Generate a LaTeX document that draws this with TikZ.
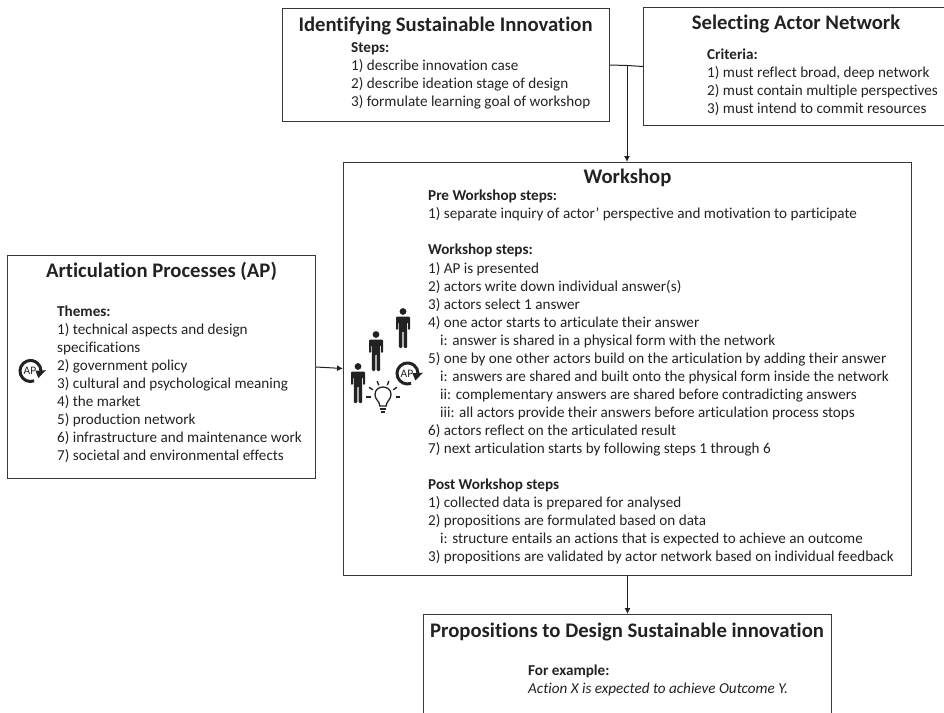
\documentclass[tikz,border=0pt]{standalone}
\usepackage{fontspec}
\setmainfont[Ligatures=NoCommon]{Carlito}
\usetikzlibrary{arrows.meta}
\definecolor{ink}{HTML}{222222}
\tikzset{
  x=1pt,y=-1pt,
  box/.style={draw=ink!90,line width=1pt,rectangle,inner sep=0pt,anchor=north west},
  title/.style={text=ink,inner sep=0pt,anchor=base,font=\fontsize{20.7}{24}\selectfont\bfseries},
  body/.style={text=ink,inner sep=0pt,anchor=north west,align=left,font=\fontsize{15.15}{18.05}\selectfont},
  link/.style={draw=ink,line width=1pt},
  arrow/.style={link,-{Latex[length=6pt,width=6pt]}},
  person/.pic={
    \fill[ink] (0,-15.5) circle (3.4);
    \fill[ink,rounded corners=1.2pt] (-7,-10.5) -- (7,-10.5) -- (7,3) -- (5,3) -- (5,-5) -- (4.2,-5)
      -- (4.2,21) -- (0.7,21) -- (0.7,4) -- (-0.7,4) -- (-0.7,21) -- (-4.2,21) -- (-4.2,-5) -- (-5,-5) -- (-5,3) -- (-7,3) -- cycle;
  },
  cyclemark/.pic={
    \draw[ink,line width=3pt] (70:10.5) arc[start angle=70,end angle=360,radius=10.5];
    \fill[ink] (-3:5) -- (-3:15.5) -- (42:10.5) -- cycle;
    \node[inner sep=0pt,text=ink,font=\fontsize{11.5}{12}\selectfont] (-txt) at (-0.5,0) {AP};
  },
  bulb/.pic={
    \draw[ink,line width=1.3pt] (-3.2,9) .. controls (-3.2,4) and (-8,3) .. (-8,-2.5)
      .. controls (-8,-7.5) and (-4,-10) .. (0,-10) .. controls (4,-10) and (8,-7.5) .. (8,-2.5)
      .. controls (8,3) and (3.2,4) .. (3.2,9) -- cycle;
    \fill[ink] (-3.2,10.5) rectangle (3.2,12.5);
    \fill[ink] (-2.2,13.5) rectangle (2.2,15.5);
    \foreach \a in {0,35,70,110,145,180}{
      \draw[ink,line width=1.4pt] (-\a:12.5) -- (-\a:17);
    }
  },
}
\begin{document}
\begin{tikzpicture}
\useasboundingbox (0,0) rectangle (944,712);
\clip (0,0) rectangle (944,712);
% boxes
\node[box,minimum width=327pt,minimum height=113pt] (identify) at (282,8) {};
\node[box,minimum width=310pt,minimum height=118pt] (select) at (643,7) {};
\node[box,minimum width=568pt,minimum height=413pt] (workshop) at (343,162) {};
\node[box,minimum width=308pt,minimum height=223pt] (ap) at (7,255) {};
\node[box,minimum width=408pt,minimum height=120pt] (prop) at (423,614) {};
% titles
\node[title] (identifyT) at (445.5,31) {Identifying Sustainable Innovation};
\node[title] (selectT) at (796,29.5) {Selecting Actor Network};
\node[title] (workshopT) at (627.5,183) {Workshop};
\node[title] (apT) at (161.5,277) {Articulation Processes (AP)};
\node[title] (propT) at (627,637) {Propositions to Design Sustainable innovation};
% body
\node[body] (identifyB) at (351,42.5) {\textbf{Steps:}\\
1) describe innovation case\\
2) describe ideation stage of design\\
3) formulate learning goal of workshop};
\node[body] (selectB) at (707,49) {\textbf{Criteria:}\\
1) must reflect broad, deep network\\
2) must contain multiple perspectives\\
3) must intend to commit resources};
\node[body] (workshopB) at (428,190) {\textbf{Pre Workshop steps:}\\
1) separate inquiry of actor’ perspective and motivation to participate\\[18.05pt]
\textbf{Workshop steps:}\\
1) AP is presented\\
2) actors write down individual answer(s)\\
3) actors select 1 answer\\
4) one actor starts to articulate their answer\\
\hspace*{12pt}i: answer is shared in a physical form with the network\\
5) one by one other actors build on the articulation by adding their answer\\
\hspace*{12pt}i: answers are shared and built onto the physical form inside the network\\
\hspace*{12pt}ii: complementary answers are shared before contradicting answers\\
\hspace*{12pt}iii: all actors provide their answers before articulation process stops\\
6) actors reflect on the articulated result\\
7) next articulation starts by following steps 1 through 6\\[18.05pt]
\textbf{Post Workshop steps}\\
1) collected data is prepared for analysed\\
2) propositions are formulated based on data\\
\hspace*{12pt}i: structure entails an actions that is expected to achieve an outcome\\
3) propositions are validated by actor network based on individual feedback};
\node[body] (apB) at (57,305.5) {\textbf{Themes:}\\
1) technical aspects and design\\
specifications\\
2) government policy\\
3) cultural and psychological meaning\\
4) the market\\
5) production network\\
6) infrastructure and maintenance work\\
7) societal and environmental effects};
\node[body] (propB) at (528,665) {\textbf{For example:}\\
\textit{Action X is expected to achieve Outcome Y.}};
% connectors
\coordinate (junction) at (627,65.5);
\coordinate (wsLeft) at (343,368.5);
\draw[link] (identify.east) -- (junction);
\draw[link] (select.west) -- (junction);
\draw[arrow] (junction) -- (junction |- workshop.north);
\draw[arrow] (workshop.south) -- (prop.north);
\draw[arrow] (ap.east) -- (wsLeft);
% icons
\pic at (403,327) {person};
\pic at (376,350) {person};
\pic at (358,382) {person};
\pic at (383,397) {bulb};
\pic (wsCycle) at (407.5,373.5) {cyclemark};
\pic (apCycle) at (30.5,371) {cyclemark};
\end{tikzpicture}
\end{document}
